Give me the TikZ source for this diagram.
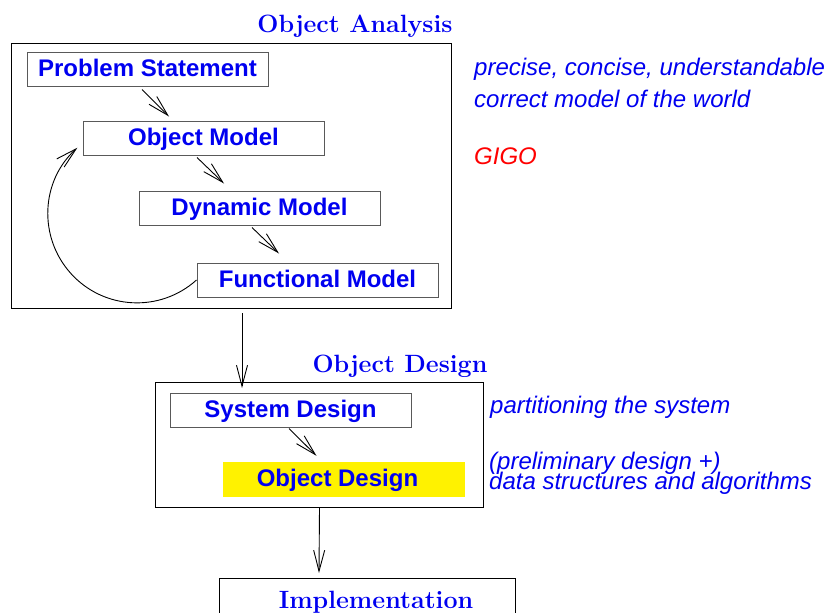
\documentclass[tikz,border=0pt]{standalone}
\usepackage{fontspec}
\newfontfamily\lsans{Liberation Sans}
\usetikzlibrary{arrows.meta,calc}
\definecolor{tblue}{RGB}{0,0,240}
\tikzset{
  ttl/.style={font=\bfseries\fontsize{25}{25}\selectfont, text=tblue, anchor=base, inner sep=0pt},
  lbl/.style={font=\lsans\bfseries\fontsize{24}{24}\selectfont, text=tblue, text height=17pt, text depth=3pt},
  note/.style={font=\lsans\itshape\fontsize{24}{20}\selectfont, text=tblue, anchor=base west, align=left, inner sep=0pt},
  inbox/.style={lbl, draw=black!65, line width=1pt, minimum width=241pt, minimum height=34pt, inner sep=0pt},
  hibox/.style={lbl, fill=yellow, minimum width=242pt, minimum height=35pt, inner sep=0pt},
  outbox/.style={draw=black, line width=1pt, inner sep=0pt, anchor=north west},
  arr/.style={draw=black, line width=0.9pt, -{Straight Barb[length=21pt,width=11pt,line width=0.9pt]}},
}
\begin{document}
\begin{tikzpicture}[x=1pt,y=1pt]
\useasboundingbox (0,0) rectangle (830,-613);
\clip (0,0) rectangle (830,-613);
% outer frames
\node (box1) [outbox, minimum width=440pt, minimum height=265pt] at (11,-43) {};
\node (box2) [outbox, minimum width=328pt, minimum height=125pt] at (155,-382) {};
\node (impl) [outbox, minimum width=296pt, minimum height=80pt] at (219,-578) {};
% titles
\node (t1) [ttl] at (355,-32) {Object Analysis};
\node (t2) [ttl] at (400,-372) {Object Design};
\node (t3) [ttl] at (376,-608) {Implementation};
% analysis boxes
\node (ps) [inbox] at (147.5,-69) {Problem Statement};
\node (om) [inbox] at (203.5,-138) {Object Model};
\node (dm) [inbox] at (259.5,-208) {Dynamic Model};
\node (fm) [inbox] at (317.5,-280) {Functional Model};
% design boxes
\node (sd) [inbox] at (290.5,-410) {System Design};
\node (od) [hibox] at (344,-479.5) {Object Design\kern13pt};
% small arrows
\draw[arr] ($(ps.south)+(-5.5,-3)$) -- ($(om.north)+(-34.5,4)$);
\draw[arr] ($(om.south)+(-6.5,-2)$) -- ($(dm.north)+(-35.5,7)$);
\draw[arr] ($(dm.south)+(-7.5,-2)$) -- ($(fm.north)+(-38.5,9)$);
\draw[arr] ($(sd.south)+(-1.5,-1)$) -- ($(od.north)+(-27.5,6)$);
% loop back
\draw[arr] (fm.west) arc[start angle=-48, end angle=-228, radius=89];
% vertical arrows
\draw[arr] ($(box1.south west)+(231,-4)$) -- ($(box2.north west)+(87,-6)$);
\draw[arr] ($(box2.south)+(0,0)$) -- ($(impl.north west)+(100,5)$);
% notes
\node (n1) [note] at (474,-75) {precise, concise, understandable};
\node (n2) [note] at (474,-107) {correct model of the world};
\node (n3) [note, text=red] at (474,-164) {GIGO};
\node (n4) [note] at (490,-413) {partitioning the system};
\node (n5) [note] at (489,-489) {(preliminary design +)\\[-4pt]data structures and algorithms};
\end{tikzpicture}
\end{document}
